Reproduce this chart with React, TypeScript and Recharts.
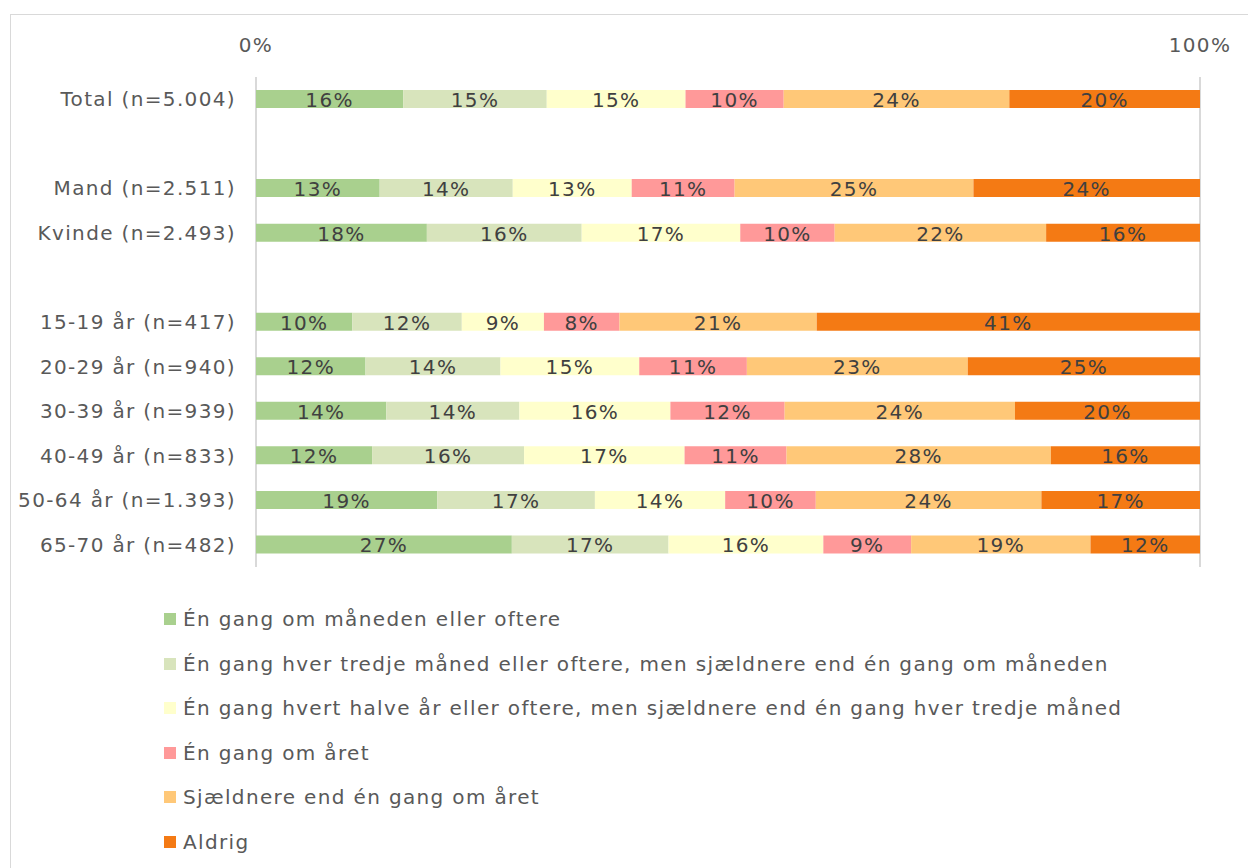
import React from "react";
import { BarChart, Bar, XAxis, YAxis, CartesianGrid, LabelList } from "recharts";

const categories = [
  "Total (n=5.004)",
  "",
  "Mand (n=2.511)",
  "Kvinde (n=2.493)",
  " ",
  "15-19 år (n=417)",
  "20-29 år (n=940)",
  "30-39 år (n=939)",
  "40-49 år (n=833)",
  "50-64 år (n=1.393)",
  "65-70 år (n=482)",
];

const seriesNames = [
  "Én gang om måneden eller oftere",
  "Én gang hver tredje måned eller oftere, men sjældnere end én gang om måneden",
  "Én gang hvert halve år eller oftere, men sjældnere end én gang hver tredje måned",
  "Én gang om året",
  "Sjældnere end én gang om året",
  "Aldrig",
];

const colors = ["#A9D08E", "#D8E4BC", "#FFFFCC", "#FF9999", "#FFC878", "#F47A14"];

// values per series, one per category (null = spacer row)
const monthly = [15.6, null, 13.1, 18.1, null, 10.2, 11.6, 13.8, 12.3, 19.2, 27.1];
const quarterly = [15.2, null, 14.1, 16.4, null, 11.6, 14.3, 14.1, 16.1, 16.7, 16.6];
const halfYear = [14.7, null, 12.6, 16.8, null, 8.7, 14.7, 16.0, 17.0, 13.8, 16.4];
const yearly = [10.4, null, 10.9, 10.0, null, 8.0, 11.4, 12.1, 10.8, 9.6, 9.3];
const rarer = [23.9, null, 25.3, 22.4, null, 20.9, 23.4, 24.4, 28.0, 23.9, 19.0];
const never = [20.2, null, 24.0, 16.3, null, 40.6, 24.6, 19.6, 15.8, 16.8, 11.6];

const axisTicks = [0, 100];

const seriesValues = [monthly, quarterly, halfYear, yearly, rarer, never];
const keys = ["s0", "s1", "s2", "s3", "s4", "s5"];

const data = categories.map((name, i) => {
  const row: any = { name };
  keys.forEach((k, j) => {
    if (seriesValues[j][i] != null) row[k] = seriesValues[j][i];
  });
  return row;
});

const FONT = "'DejaVu Sans', sans-serif";
const SPACING = 1.35;

const SegmentLabel = (props: any) => {
  const { x, y, width, height, value } = props;
  if (value == null || isNaN(Number(value))) return null;
  return (
    <text
      x={x + width / 2}
      y={y + height / 2 + 8}
      textAnchor="middle"
      fill="#404040"
      fontSize={20}
      fontFamily={FONT}
      letterSpacing={SPACING}
    >
      {Math.round(Number(value))}%
    </text>
  );
};

const LegendList = () => (
  <div
    style={{
      position: "absolute",
      left: 164,
      top: 597,
      fontFamily: FONT,
      fontSize: 20,
      letterSpacing: SPACING,
      color: "#595959",
      whiteSpace: "nowrap",
    }}
  >
    {seriesNames.map((n, i) => (
      <div key={n} style={{ display: "flex", alignItems: "center", height: 44.5 }}>
        <span
          style={{ width: 12, height: 12, background: colors[i], marginRight: 7, display: "inline-block" }}
        />
        <span>{n}</span>
      </div>
    ))}
  </div>
);

export default function App() {
  return (
    <div style={{ position: "absolute", left: 0, top: 0, width: 1248, height: 868, background: "#fff", overflow: "hidden" }}>
      <div
        style={{
          position: "absolute",
          left: 10,
          top: 14,
          width: 1260,
          height: 880,
          border: "1px solid #d9d9d9",
        }}
      />
      <div style={{ position: "absolute", left: 0, top: 0 }}>
        <BarChart
          width={1248}
          height={868}
          data={data}
          layout="vertical"
          barSize={18}
          margin={{ top: 47, right: 48, left: 10, bottom: 301 }}
        >
          <CartesianGrid horizontal={false} vertical={true} stroke="#d9d9d9" strokeWidth={2} />
          <XAxis
            type="number"
            orientation="top"
            domain={[0, 100]}
            ticks={axisTicks}
            tickFormatter={(v) => `${v}%`}
            axisLine={false}
            tickLine={false}
            height={30}
            tickMargin={19}
            tick={{ fill: "#595959", fontSize: 20, fontFamily: FONT, letterSpacing: SPACING }}
          />
          <YAxis
            type="category"
            dataKey="name"
            width={246}
            axisLine={false}
            tickLine={false}
            tickMargin={14}
            interval={0}
            tick={{ fill: "#595959", fontSize: 20, fontFamily: FONT, letterSpacing: SPACING }}
          />
          {keys.map((k, i) => (
            <Bar key={k} dataKey={k} name={seriesNames[i]} stackId="a" fill={colors[i]} isAnimationActive={false}>
              <LabelList dataKey={k} content={<SegmentLabel />} />
            </Bar>
          ))}
        </BarChart>
      </div>
      <LegendList />
    </div>
  );
}
